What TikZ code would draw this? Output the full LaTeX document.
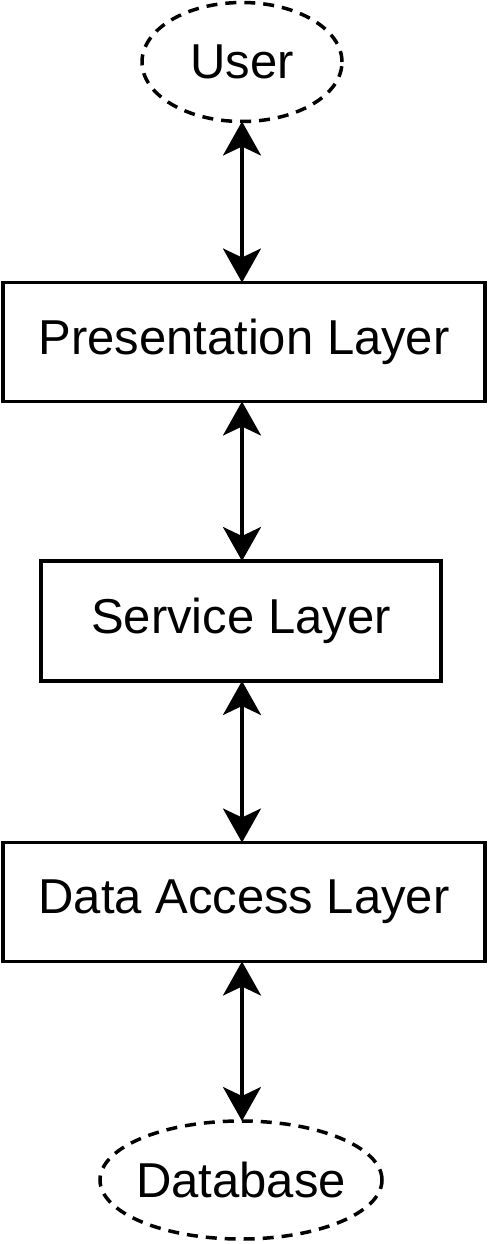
\documentclass[tikz,border=0pt]{standalone}
\usepackage{fontspec}
\setmainfont{Liberation Sans}
\usetikzlibrary{shapes.geometric,arrows.meta}
\begin{document}
\begin{tikzpicture}[x=1pt,y=-1pt,
  layerbox/.style={draw=black,line width=3.5pt,fill=white,inner sep=0pt,outer sep=0pt,font=\fontsize{49}{58}\selectfont},
  endpoint/.style={ellipse,draw=black,line width=3.5pt,dash pattern=on 11pt off 8pt,inner sep=0pt,inner xsep=-10pt,outer sep=0pt,font=\fontsize{49}{58}\selectfont},
  link/.style={line width=3.5pt,{Stealth[length=34pt,width=38pt,inset=9pt]}-{Stealth[length=34pt,width=38pt,inset=9pt]}}]
\useasboundingbox (0,0) rectangle (488,1244);
\node[endpoint,minimum width=200pt,minimum height=119pt] (user) at (242,62) {User};
\node[layerbox,minimum width=482pt,minimum height=119pt] (pres) at (244,342) {Presentation Layer};
\node[layerbox,minimum width=400pt,minimum height=120pt] (serv) at (241,621) {Service Layer};
\node[layerbox,minimum width=482pt,minimum height=119pt] (data) at (244,902) {Data Access Layer};
\node[endpoint,minimum width=282pt,minimum height=118pt] (db) at (241,1180) {Database};
\draw[link] (user.south) -- (user.south |- pres.north);
\draw[link] (user.south |- pres.south) -- (user.south |- serv.north);
\draw[link] (user.south |- serv.south) -- (user.south |- data.north);
\draw[link] (user.south |- data.south) -- (user.south |- db.north);
\end{tikzpicture}
\end{document}
